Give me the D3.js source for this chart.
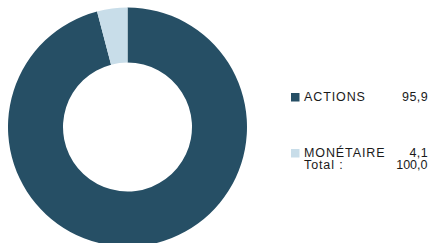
<!DOCTYPE html>
<html lang="fr">
<head>
<meta charset="UTF-8">
<title>Répartition</title>
<style>
    body { margin: 0; background: #fff; }
    text { font-family: "Liberation Sans", Arial, sans-serif; font-size: 12.5px; fill: #1a1a1a; }
    .lab { letter-spacing: 0.9px; }
    .val { letter-spacing: 0.4px; }
</style>
</head>
<body>
<svg id="chart" width="432" height="243"></svg>
<script src="https://cdn.jsdelivr.net/npm/d3@7"></script>
<script>
    var categories = ['ACTIONS', 'MONÉTAIRE'];
    var values = [95.9, 4.1];
    var valueLabels = ['95,9', '4,1'];
    var totalLabel = 'Total :';
    var totalValue = '100,0';

    var colors = d3.scaleOrdinal()
        .domain(categories)
        .range(['#264f65', '#c8dde9']);

    var svg = d3.select('#chart');
    var cx = 127.5, cy = 127, rOut = 119.5, rIn = 64.5;

    var pie = d3.pie().sort(null).value(function (d) { return d.v; });
    var arc = d3.arc().innerRadius(rIn).outerRadius(rOut);

    var slices = categories.map(function (c, i) { return { c: c, v: values[i] }; });

    svg.append('g')
        .attr('transform', 'translate(' + cx + ',' + cy + ')')
        .selectAll('path')
        .data(pie(slices))
        .enter()
        .append('path')
        .attr('d', arc)
        .attr('fill', function (d) { return colors(d.data.c); });

    // legende
    var legendY = d3.scalePoint().domain(categories).range([101, 157]);

    var leg = svg.append('g')
        .selectAll('g')
        .data(categories)
        .enter()
        .append('g')
        .attr('transform', function (d) { return 'translate(0,' + legendY(d) + ')'; });

    leg.append('rect')
        .attr('x', 291)
        .attr('y', -8)
        .attr('width', 8.5)
        .attr('height', 8.5)
        .attr('fill', function (d) { return colors(d); });

    leg.append('text')
        .attr('class', 'lab')
        .attr('x', 304)
        .text(function (d) { return d; });

    leg.append('text')
        .attr('class', 'val')
        .attr('x', 428)
        .attr('text-anchor', 'end')
        .text(function (d, i) { return valueLabels[i]; });

    svg.append('text').attr('class', 'lab').attr('x', 304).attr('y', 168.5).text(totalLabel);
    svg.append('text').attr('x', 427.5).attr('y', 168.5).attr('text-anchor', 'end').text(totalValue);
</script>
</body>
</html>
